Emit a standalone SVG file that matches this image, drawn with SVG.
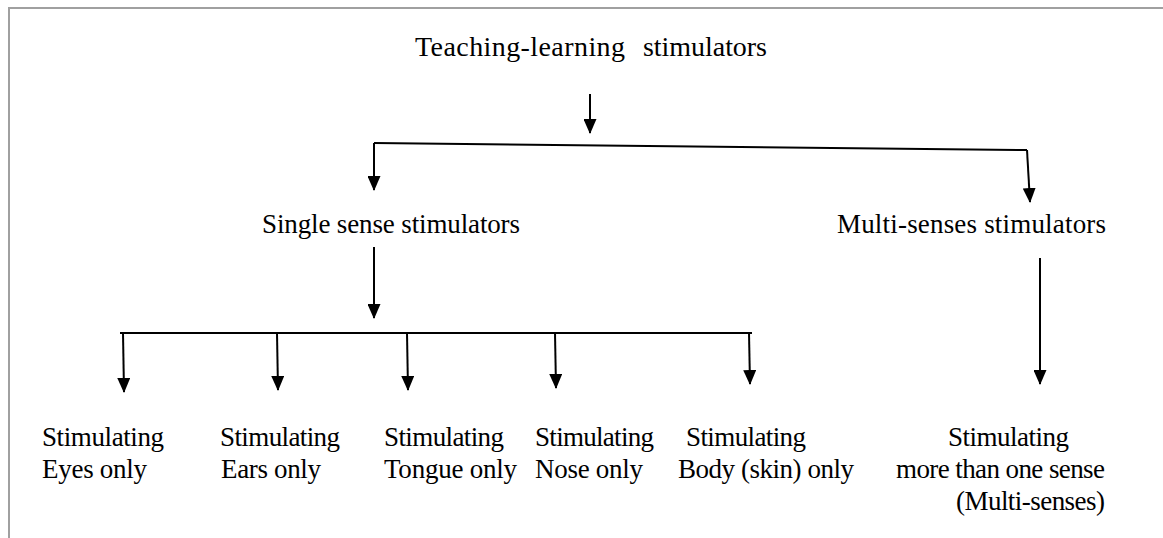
<svg xmlns="http://www.w3.org/2000/svg" width="1163" height="538" viewBox="0 0 1163 538">
<style>
text{font-family:"Liberation Serif","Times New Roman",serif;fill:#000;font-size:27px}
.top{font-size:28px}
.ln{stroke:#000;stroke-width:2;fill:none}
.frame{stroke:#a0a0a0;stroke-width:2;fill:none}
</style>
<defs>
<marker id="ah" markerUnits="userSpaceOnUse" markerWidth="15" markerHeight="13" viewBox="0 0 15 13" refX="14" refY="6.5" orient="auto">
<path d="M0,0 L15,6.5 L0,13 Z" fill="#000"/>
</marker>
</defs>
<rect width="1163" height="538" fill="#fff"/>
<path class="frame" d="M9,538 V8 H1163"/>
<g id="connectors">
<line class="ln" x1="590" y1="94" x2="590" y2="133" marker-end="url(#ah)"/>
<path class="ln" d="M374,143 L1027,150"/>
<line class="ln" x1="374" y1="143" x2="374" y2="190" marker-end="url(#ah)"/>
<line class="ln" x1="1027" y1="150" x2="1030" y2="202" marker-end="url(#ah)"/>
<line class="ln" x1="374" y1="247" x2="374" y2="318" marker-end="url(#ah)"/>
<line class="ln" x1="120" y1="333" x2="752" y2="333"/>
<line class="ln" x1="123" y1="333" x2="124" y2="392" marker-end="url(#ah)"/>
<line class="ln" x1="277" y1="333" x2="278" y2="390" marker-end="url(#ah)"/>
<line class="ln" x1="407" y1="333" x2="408" y2="390" marker-end="url(#ah)"/>
<line class="ln" x1="555" y1="333" x2="556" y2="388" marker-end="url(#ah)"/>
<line class="ln" x1="749" y1="333" x2="750" y2="384" marker-end="url(#ah)"/>
<line class="ln" x1="1040" y1="258" x2="1040" y2="384" marker-end="url(#ah)"/>
</g>
<g id="root"><text class="top" y="56"><tspan x="415" textLength="210">Teaching-learning</tspan><tspan x="643" textLength="124">stimulators</tspan></text></g>
<g id="single"><text x="262" y="233" textLength="258">Single sense stimulators</text></g>
<g id="multi"><text x="837" y="233" textLength="269">Multi-senses stimulators</text></g>
<g id="eyes"><text x="42" y="446" textLength="122">Stimulating</text><text x="42" y="478" textLength="105">Eyes only</text></g>
<g id="ears"><text x="220" y="446" textLength="120">Stimulating</text><text x="221" y="478" textLength="100">Ears only</text></g>
<g id="tongue"><text x="384" y="446" textLength="120">Stimulating</text><text x="384" y="478" textLength="133">Tongue only</text></g>
<g id="nose"><text x="535" y="446" textLength="119">Stimulating</text><text x="535" y="478" textLength="108">Nose only</text></g>
<g id="body"><text x="686" y="446" textLength="120">Stimulating</text><text x="678" y="478" textLength="176">Body (skin) only</text></g>
<g id="multisense"><text x="948" y="446" textLength="121">Stimulating</text><text x="896" y="478" textLength="209">more than one sense</text><text x="956" y="510" textLength="149">(Multi-senses)</text></g>
</svg>
